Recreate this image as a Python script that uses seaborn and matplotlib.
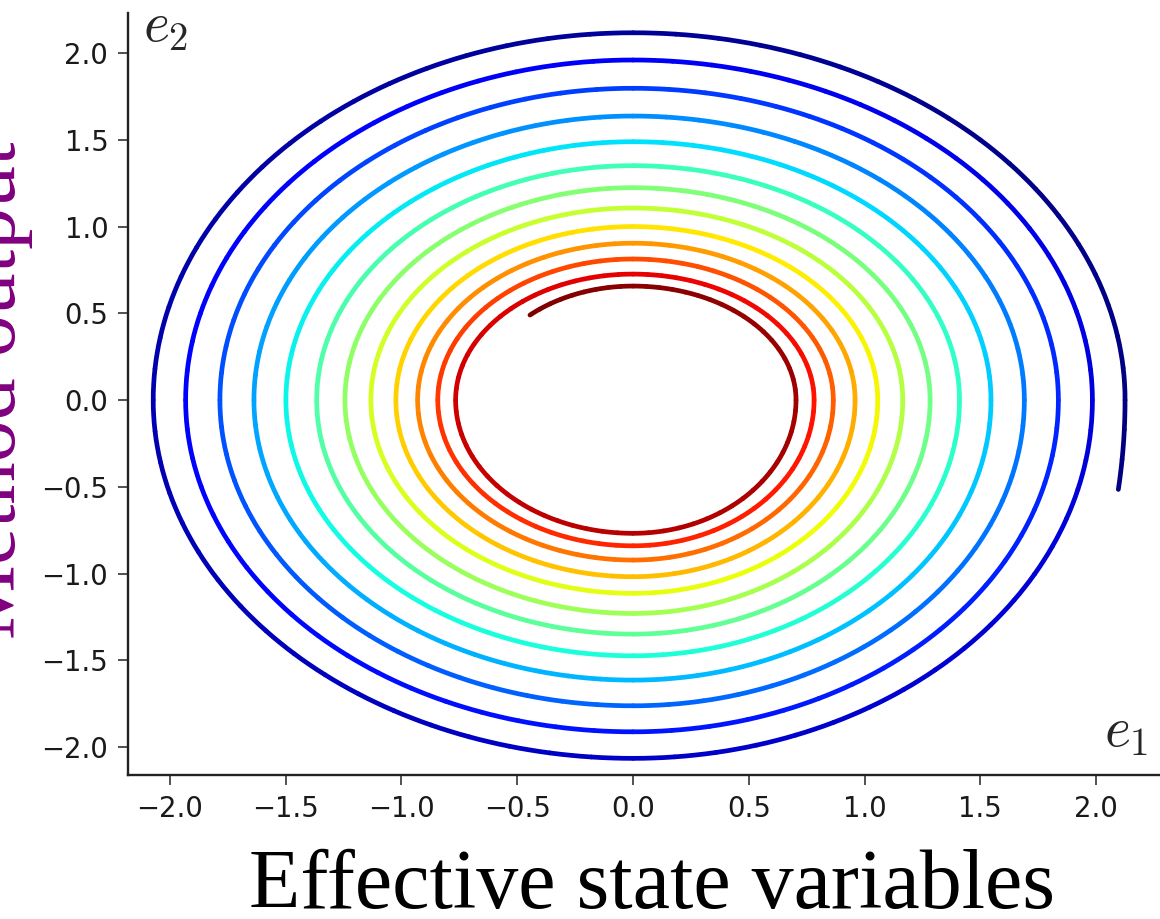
import numpy as np
import matplotlib
matplotlib.use("Agg")
import matplotlib.pyplot as plt
import seaborn as sns
from matplotlib.patches import Arc

# ---- data -----------------------------------------------------------------
# spiral crossings of the axes, one entry per turn (outer -> inner)
right_x = [2.125, 1.984, 1.837, 1.690, 1.546, 1.410, 1.283, 1.165, 1.057, 0.959, 0.865, 0.782, 0.704]
top_y = [2.117, 1.960, 1.797, 1.637, 1.489, 1.351, 1.224, 1.107, 1.000, 0.904, 0.813, 0.726, 0.657]
left_x = [-2.072, -1.932, -1.784, -1.637, -1.499, -1.366, -1.244, -1.132, -1.024, -0.930, -0.843, -0.766]
bottom_y = [-2.065, -1.912, -1.762, -1.614, -1.474, -1.349, -1.230, -1.114, -1.018, -0.922, -0.840, -0.768]
start_point = (2.096, -0.515)
end_point = (-0.445, 0.49)
x_ticks = [-2.0, -1.5, -1.0, -0.5, 0.0, 0.5, 1.0, 1.5, 2.0]
y_ticks = [-2.0, -1.5, -1.0, -0.5, 0.0, 0.5, 1.0, 1.5, 2.0]
x_label = "Effective state variables"
y_label = "Method output"

# ---- style ------------------------------------------------------------------
sns.set_style("ticks")
plt.rcParams["mathtext.fontset"] = "cm"
plt.rcParams["font.family"] = ["DejaVu Sans"]

fig = plt.figure(figsize=(11.6, 9.19), dpi=100)
ax = fig.add_axes([128 / 1160, 144 / 919, 1032 / 1160, 762 / 919])
ax.set_xlim(-2.181, 2.276)
ax.set_ylim(-2.161, 2.231)

cmap = matplotlib.colormaps["jet"]

# ---- build the spiral pieces (ellipse quarter arcs through the crossings) ----
start_ang = np.degrees(np.arctan2(start_point[1], start_point[0]))  # negative
end_ang = np.degrees(np.arctan2(end_point[1], end_point[0]))
nturn = len(top_y) - 1
total = 360 * nturn + end_ang - start_ang

# semi-axis of the first piece so that it passes through the start point
a0 = right_x[0]
b0 = abs(start_point[1]) / np.sqrt(1 - (start_point[0] / a0) ** 2)
# semi-axis of the last piece so that it passes through the end point
bl = top_y[-1]
al = abs(end_point[0]) / np.sqrt(1 - (end_point[1] / bl) ** 2)

pieces = [(a0, b0, start_ang, 0.0, 0)]
for k in range(len(top_y)):
    pieces.append((right_x[k], top_y[k], 0.0, 90.0, k))
    if k < nturn:
        pieces.append((abs(left_x[k]), top_y[k], 90.0, 180.0, k))
        pieces.append((abs(left_x[k]), abs(bottom_y[k]), 180.0, 270.0, k))
        pieces.append((right_x[k + 1], abs(bottom_y[k]), 270.0, 360.0, k))
    else:
        pieces.append((al, bl, 90.0, end_ang, k))

for a, b, t1, t2, k in pieces:
    n = int(np.ceil((t2 - t1) / 5.0))
    edges = np.linspace(t1, t2, n + 1)
    for s1, s2 in zip(edges[:-1], edges[1:]):
        prog = (360 * k + 0.5 * (s1 + s2) - start_ang) / total
        arc = Arc((0, 0), 2 * a, 2 * b, theta1=s1 % 360, theta2=s2 if s2 % 360 == 0 and s2 > 0 else s2 % 360,
                  color=cmap(prog), lw=3.4, capstyle="round", zorder=3)
        ax.add_patch(arc)

# ---- axes decoration ------------------------------------------------------
ax.set_xticks(x_ticks)
ax.set_yticks(y_ticks)
ax.tick_params(axis="both", labelsize=19.8, length=7.2, width=1.1, color="#222222",
               labelcolor="#1a1a1a", direction="out")
ax.tick_params(axis="x", pad=7.0)
ax.tick_params(axis="y", pad=7.0)
sns.despine(ax=ax)
for sp in ("left", "bottom"):
    ax.spines[sp].set_linewidth(1.7)
    ax.spines[sp].set_color("#222222")

fig.text(652 / 1160, 11 / 919, x_label, family="Liberation Serif", fontsize=60.5,
         ha="center", va="baseline", color="black")
fig.text(33 / 1160, 0.575, y_label, family="Liberation Serif", fontsize=60.5,
         rotation=90, rotation_mode="anchor", ha="center", va="bottom", color="purple")
fig.text(143 / 1160, (919 - 42) / 919, r"$e_2$", fontsize=40, ha="left", va="baseline")
fig.text(1104 / 1160, (919 - 747) / 919, r"$e_1$", fontsize=40, ha="left", va="baseline")

fig.savefig("out.png", dpi=100)
